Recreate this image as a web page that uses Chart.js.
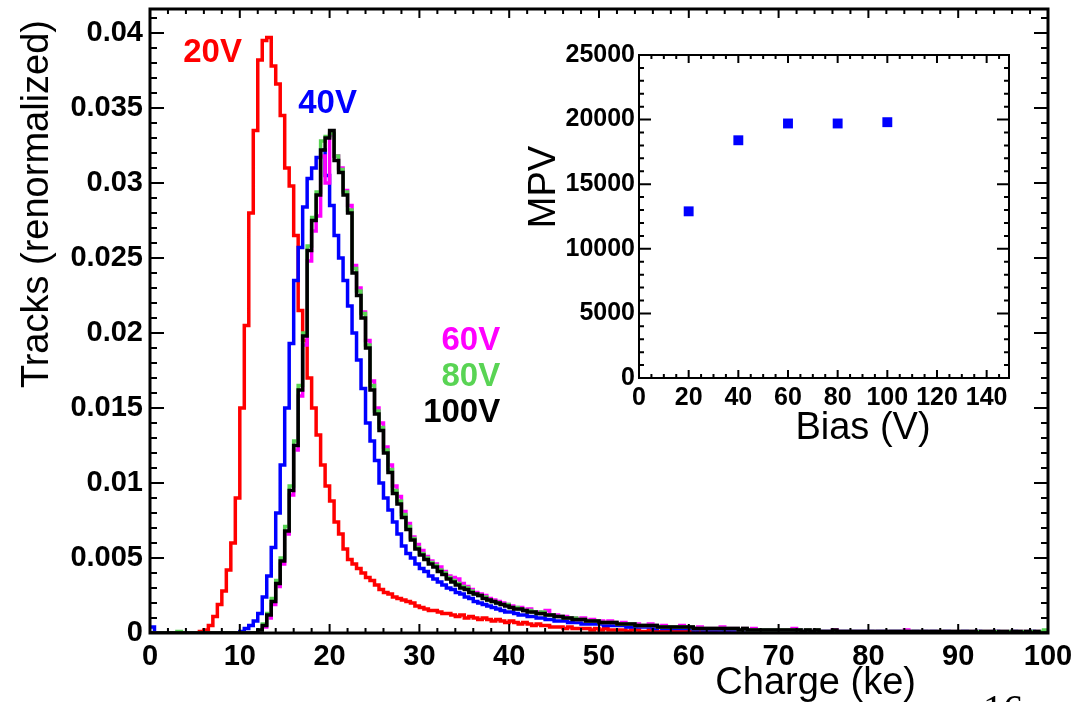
<!DOCTYPE html>
<html>
<head>
<meta charset="utf-8">
<script src="https://cdn.jsdelivr.net/npm/chart.js@4.4.1/dist/chart.umd.min.js"></script>
<style>
  body { margin: 0; background: #fff; }
  #wrap { position: relative; width: 1090px; height: 702px; overflow: hidden; }
  #main { position: absolute; left: 0; top: 0; }
  #inset { position: absolute; left: 500px; top: 20px; }
</style>
</head>
<body>
<div id="wrap">
  <canvas id="main" width="1090" height="702"></canvas>
  <canvas id="inset" width="570" height="430"></canvas>
</div>
<script>
// charge histograms, 0.5 ke bins from 0 to 100 ke (value = fraction of tracks)
const chargeBinWidth = 0.5;

const h20V = [
  0, 0, 0, 0, 0, 0, 0, 0, 0, 0,
  0, 0.0001, 0.0002, 0.0005, 0.0011, 0.0019, 0.0028, 0.0042, 0.0060, 0.0090,
  0.0150, 0.0205, 0.0280, 0.0335, 0.0382, 0.0395, 0.0397, 0.0378, 0.0366, 0.0345,
  0.0310, 0.0298, 0.0265, 0.0215, 0.0195, 0.0170, 0.0150, 0.0132, 0.0112, 0.0098,
  0.0088, 0.0074, 0.0066, 0.0056, 0.0049, 0.0046, 0.0043, 0.0040, 0.0037, 0.0035,
  0.0032, 0.0029, 0.0027, 0.0026, 0.0024, 0.0023, 0.0022, 0.0021, 0.0020, 0.0018,
  0.0017, 0.0016, 0.0015, 0.0015, 0.0014, 0.0013, 0.0013, 0.0012, 0.0011, 0.0012,
  0.0010, 0.0011, 0.0010, 0.0009, 0.0010, 0.0009, 0.0008, 0.0009, 0.0008, 0.0007,
  0.0008, 0.0007, 0.0006, 0.0007, 0.0006, 0.0005, 0.0006, 0.0005, 0.0005, 0.0004,
  0.0004, 0.0004, 0.0003, 0.0004, 0.0003, 0.0003, 0.0003, 0.0003, 0.0002, 0.0003,
  0.0002, 0.0003, 0.0002, 0.0002, 0.0002, 0.0002, 0.0001, 0.0002, 0.0002, 0.0001,
  0.0001, 0.0002, 0.0001, 0.0001, 0.0001, 0.0001, 0.0001, 0.0001, 0.0001, 0.0001,
  0.0001, 0, 0.0001, 0.0001, 0, 0.0001, 0, 0, 0.0001, 0,
  0, 0.0001, 0, 0, 0, 0.0001, 0, 0, 0, 0,
  0, 0, 0, 0.0001, 0, 0, 0, 0, 0, 0,
  0, 0, 0, 0, 0, 0, 0, 0, 0, 0,
  0, 0, 0, 0, 0, 0, 0, 0, 0, 0,
  0, 0, 0, 0, 0, 0, 0, 0, 0, 0,
  0, 0, 0, 0, 0, 0, 0, 0, 0, 0,
  0, 0, 0, 0, 0, 0, 0, 0, 0, 0
];

const h40V = [
  0.0004, 0, 0, 0, 0, 0, 0, 0, 0, 0,
  0, 0, 0, 0, 0, 0, 0, 0, 0, 0,
  0.0001, 0.0003, 0.0005, 0.0008, 0.0013, 0.0024, 0.0038, 0.0057, 0.0080, 0.0112,
  0.0150, 0.0193, 0.0235, 0.0257, 0.0284, 0.0303, 0.0310, 0.0317, 0.0322, 0.0305,
  0.0285, 0.0265, 0.0250, 0.0235, 0.0218, 0.0200, 0.0182, 0.0163, 0.0140, 0.0128,
  0.0115, 0.0100, 0.0090, 0.0082, 0.0074, 0.0066, 0.0058, 0.0053, 0.0050, 0.0046,
  0.0043, 0.0041, 0.0038, 0.0036, 0.0034, 0.0032, 0.0030, 0.0029, 0.0027, 0.0026,
  0.0024, 0.0023, 0.0021, 0.0020, 0.0019, 0.0018, 0.0017, 0.0016, 0.0015, 0.0014,
  0.0014, 0.0013, 0.0012, 0.0012, 0.0011, 0.0011, 0.0010, 0.0010, 0.0009, 0.0009,
  0.0008, 0.0008, 0.0008, 0.0007, 0.0007, 0.0007, 0.0006, 0.0006, 0.0006, 0.0006,
  0.0006, 0.0005, 0.0005, 0.0005, 0.0005, 0.0005, 0.0004, 0.0004, 0.0004, 0.0004,
  0.0004, 0.0004, 0.0003, 0.0004, 0.0003, 0.0003, 0.0003, 0.0003, 0.0003, 0.0003,
  0.0003, 0.0002, 0.0003, 0.0002, 0.0002, 0.0002, 0.0002, 0.0002, 0.0002, 0.0002,
  0.0002, 0.0002, 0.0001, 0.0002, 0.0002, 0.0001, 0.0001, 0.0002, 0.0001, 0.0001,
  0.0001, 0.0001, 0.0001, 0.0001, 0.0002, 0.0001, 0.0001, 0.0001, 0.0001, 0.0001,
  0.0001, 0.0001, 0.0001, 0.0001, 0.0001, 0.0001, 0.0001, 0.0001, 0.0001, 0.0001,
  0.0001, 0, 0.0001, 0.0001, 0, 0.0001, 0.0001, 0, 0.0001, 0,
  0.0001, 0, 0.0001, 0, 0.0001, 0, 0, 0.0001, 0, 0,
  0, 0.0001, 0, 0, 0.0001, 0, 0, 0, 0.0001, 0,
  0, 0, 0.0001, 0, 0, 0, 0.0001, 0, 0, 0
];

const h60V = [
  0, 0, 0, 0, 0, 0, 0, 0, 0, 0,
  0, 0, 0, 0, 0, 0, 0, 0, 0, 0,
  0, 0, 0, 0, 0.0001, 0.0004, 0.0010, 0.0019, 0.0031, 0.0046,
  0.0066, 0.0092, 0.0122, 0.0158, 0.0192, 0.0248, 0.0268, 0.0278, 0.0318, 0.0300,
  0.0332, 0.0318, 0.0310, 0.0295, 0.0285, 0.0245, 0.0230, 0.0214, 0.0195, 0.0168,
  0.0150, 0.0140, 0.0124, 0.0112, 0.0098, 0.0091, 0.0081, 0.0073, 0.0064, 0.0059,
  0.0055, 0.0051, 0.0048, 0.0046, 0.0044, 0.0041, 0.0038, 0.0037, 0.0036, 0.0033,
  0.0031, 0.0029, 0.0027, 0.0026, 0.0025, 0.0023, 0.0022, 0.0021, 0.0020, 0.0019,
  0.0018, 0.0017, 0.0017, 0.0015, 0.0016, 0.0014, 0.0014, 0.0013, 0.0015, 0.0012,
  0.0012, 0.0011, 0.0011, 0.0010, 0.0010, 0.0009, 0.0010, 0.0008, 0.0009, 0.0008,
  0.0008, 0.0007, 0.0008, 0.0007, 0.0006, 0.0007, 0.0006, 0.0006, 0.0006, 0.0005,
  0.0005, 0.0006, 0.0005, 0.0004, 0.0005, 0.0004, 0.0004, 0.0004, 0.0005, 0.0004,
  0.0004, 0.0003, 0.0004, 0.0003, 0.0003, 0.0003, 0.0003, 0.0004, 0.0003, 0.0003,
  0.0003, 0.0002, 0.0003, 0.0002, 0.0003, 0.0002, 0.0002, 0.0002, 0.0002, 0.0002,
  0.0002, 0.0002, 0.0002, 0.0003, 0.0002, 0.0001, 0.0002, 0.0001, 0.0002, 0.0001,
  0.0001, 0.0001, 0.0002, 0.0001, 0.0001, 0.0001, 0.0001, 0.0001, 0.0001, 0.0001,
  0.0001, 0.0001, 0.0001, 0.0001, 0.0001, 0.0001, 0.0001, 0.0001, 0.0002, 0.0001,
  0.0001, 0.0001, 0.0001, 0.0001, 0.0001, 0.0001, 0.0001, 0.0001, 0.0001, 0.0001,
  0.0001, 0.0001, 0.0001, 0.0001, 0.0001, 0.0001, 0.0001, 0.0001, 0.0001, 0.0001,
  0.0001, 0, 0.0001, 0.0001, 0.0001, 0.0001, 0, 0.0001, 0, 0.0001
];

const h80V = [
  0, 0, 0, 0, 0, 0, 0.0001, 0, 0, 0,
  0, 0, 0, 0, 0, 0, 0, 0, 0, 0,
  0, 0, 0, 0, 0.0002, 0.0006, 0.0013, 0.0023, 0.0035, 0.0050,
  0.0071, 0.0098, 0.0128, 0.0165, 0.0200, 0.0258, 0.0277, 0.0294, 0.0328, 0.0331,
  0.0333, 0.0318, 0.0309, 0.0294, 0.0282, 0.0243, 0.0228, 0.0213, 0.0192, 0.0165,
  0.0148, 0.0137, 0.0122, 0.0109, 0.0095, 0.0088, 0.0079, 0.0071, 0.0063, 0.0057,
  0.0053, 0.0050, 0.0047, 0.0045, 0.0042, 0.0040, 0.0037, 0.0035, 0.0033, 0.0031,
  0.0030, 0.0028, 0.0026, 0.0025, 0.0024, 0.0022, 0.0021, 0.0020, 0.0019, 0.0019,
  0.0017, 0.0017, 0.0016, 0.0015, 0.0015, 0.0014, 0.0013, 0.0014, 0.0012, 0.0012,
  0.0011, 0.0011, 0.0010, 0.0010, 0.0010, 0.0009, 0.0009, 0.0008, 0.0008, 0.0008,
  0.0007, 0.0007, 0.0007, 0.0007, 0.0006, 0.0006, 0.0006, 0.0006, 0.0005, 0.0005,
  0.0005, 0.0005, 0.0005, 0.0004, 0.0004, 0.0004, 0.0004, 0.0004, 0.0004, 0.0004,
  0.0004, 0.0003, 0.0003, 0.0003, 0.0003, 0.0003, 0.0003, 0.0003, 0.0003, 0.0003,
  0.0003, 0.0002, 0.0003, 0.0002, 0.0002, 0.0002, 0.0002, 0.0002, 0.0002, 0.0002,
  0.0002, 0.0002, 0.0002, 0.0002, 0.0002, 0.0001, 0.0002, 0.0001, 0.0002, 0.0001,
  0.0001, 0.0001, 0.0001, 0.0001, 0.0001, 0.0001, 0.0001, 0.0001, 0.0001, 0.0001,
  0.0001, 0.0001, 0.0001, 0.0001, 0.0001, 0.0001, 0.0001, 0.0001, 0.0001, 0.0001,
  0.0001, 0.0001, 0.0001, 0.0001, 0.0001, 0.0001, 0.0001, 0.0001, 0.0001, 0.0001,
  0.0001, 0.0001, 0.0001, 0.0001, 0.0001, 0.0001, 0.0001, 0.0001, 0.0001, 0.0001,
  0.0001, 0.0001, 0.0001, 0.0001, 0.0001, 0.0001, 0.0001, 0.0001, 0.0001, 0.0002
];

const h100V = [
  0, 0, 0, 0, 0, 0, 0, 0, 0, 0,
  0, 0, 0, 0, 0, 0, 0, 0, 0, 0,
  0, 0, 0, 0, 0.0002, 0.0005, 0.0012, 0.0021, 0.0033, 0.0048,
  0.0068, 0.0095, 0.0125, 0.0162, 0.0198, 0.0255, 0.0275, 0.0292, 0.0322, 0.0330,
  0.0335, 0.0315, 0.0307, 0.0292, 0.0280, 0.0240, 0.0225, 0.0210, 0.0190, 0.0162,
  0.0146, 0.0135, 0.0120, 0.0107, 0.0093, 0.0086, 0.0077, 0.0069, 0.0062, 0.0056,
  0.0052, 0.0049, 0.0046, 0.0044, 0.0041, 0.0039, 0.0036, 0.0034, 0.0032, 0.0030,
  0.0029, 0.0027, 0.0026, 0.0025, 0.0023, 0.0022, 0.0021, 0.0020, 0.0019, 0.0018,
  0.0017, 0.0016, 0.0016, 0.0015, 0.0014, 0.0014, 0.0013, 0.0013, 0.0012, 0.0012,
  0.0011, 0.0011, 0.0010, 0.0010, 0.0009, 0.0009, 0.0009, 0.0008, 0.0008, 0.0008,
  0.0007, 0.0007, 0.0007, 0.0007, 0.0006, 0.0006, 0.0006, 0.0006, 0.0005, 0.0005,
  0.0005, 0.0005, 0.0005, 0.0004, 0.0004, 0.0004, 0.0004, 0.0004, 0.0004, 0.0004,
  0.0004, 0.0003, 0.0003, 0.0003, 0.0003, 0.0003, 0.0003, 0.0003, 0.0003, 0.0003,
  0.0003, 0.0002, 0.0003, 0.0002, 0.0002, 0.0002, 0.0002, 0.0002, 0.0002, 0.0002,
  0.0002, 0.0002, 0.0002, 0.0002, 0.0002, 0.0001, 0.0002, 0.0001, 0.0002, 0.0001,
  0.0001, 0.0001, 0.0002, 0.0001, 0.0001, 0.0001, 0.0001, 0.0001, 0.0001, 0.0001,
  0.0001, 0.0001, 0.0001, 0.0001, 0.0001, 0.0001, 0.0001, 0.0001, 0.0001, 0.0001,
  0.0001, 0.0001, 0.0001, 0.0001, 0.0001, 0.0001, 0.0001, 0.0001, 0.0001, 0.0001,
  0.0001, 0.0001, 0.0001, 0.0001, 0, 0.0001, 0.0001, 0.0001, 0, 0.0001,
  0.0001, 0, 0.0001, 0.0001, 0, 0.0001, 0, 0.0001, 0, 0
];

// inset: most probable value vs bias voltage
const biasV = [20, 40, 60, 80, 100];
const mpvValues = [12900, 18400, 19700, 19700, 19800];

// tick labels
const chargeTicks = [0, 10, 20, 30, 40, 50, 60, 70, 80, 90, 100];
const trackTicks = [0, 0.005, 0.01, 0.015, 0.02, 0.025, 0.03, 0.035, 0.04];
const biasTicks = [0, 20, 40, 60, 80, 100, 120, 140];
const mpvTicks = [0, 5000, 10000, 15000, 20000, 25000];

Chart.defaults.font.family = "'Liberation Sans', Arial, sans-serif";
Chart.defaults.color = '#000';

// histogram -> points at bin left edges, plus closing edge
function toSteps(vals) {
  const pts = vals.map((v, i) => ({ x: i * chargeBinWidth, y: v }));
  pts.push({ x: vals.length * chargeBinWidth, y: vals[vals.length - 1] });
  return pts;
}

function histSet(label, vals, color) {
  return {
    label: label,
    data: toSteps(vals),
    borderColor: color,
    borderWidth: 3.5,
    stepped: true,
    pointRadius: 0,
    fill: false,
    tension: 0
  };
}

// ROOT style frame with inside ticks on all four sides
const rootFrame = {
  id: 'rootFrame',
  afterDatasetsDraw(chart, args, o) {
    const { ctx, chartArea: a } = chart;
    const xs = chart.scales.x, ys = chart.scales.y;
    ctx.save();
    ctx.strokeStyle = '#000';
    ctx.lineWidth = o.tickWidth;
    ctx.beginPath();
    const nx = Math.floor((xs.max - xs.min) / o.xMinor + 1e-6);
    for (let i = 0; i <= nx; i++) {
      const v = xs.min + i * o.xMinor;
      const px = xs.getPixelForValue(v);
      const r = v / o.xMajor;
      const len = Math.abs(r - Math.round(r)) < 1e-6 ? o.xMajorLen : o.xMinorLen;
      ctx.moveTo(px, a.bottom); ctx.lineTo(px, a.bottom - len);
      ctx.moveTo(px, a.top); ctx.lineTo(px, a.top + len);
    }
    const ny = Math.floor((ys.max - ys.min) / o.yMinor + 1e-6);
    for (let i = 0; i <= ny; i++) {
      const v = ys.min + i * o.yMinor;
      const py = ys.getPixelForValue(v);
      const r = v / o.yMajor;
      const len = Math.abs(r - Math.round(r)) < 1e-6 ? o.yMajorLen : o.yMinorLen;
      ctx.moveTo(a.left, py); ctx.lineTo(a.left + len, py);
      ctx.moveTo(a.right, py); ctx.lineTo(a.right - len, py);
    }
    ctx.stroke();
    ctx.lineWidth = o.frameWidth;
    ctx.strokeRect(a.left, a.top, a.right - a.left, a.bottom - a.top);
    ctx.restore();
  }
};

// voltage labels next to the curves + axis titles
const mainTexts = {
  id: 'mainTexts',
  afterDraw(chart, args, o) {
    const { ctx } = chart;
    const xs = chart.scales.x, ys = chart.scales.y;
    ctx.save();
    ctx.font = "bold 33px 'Liberation Sans', Arial, sans-serif";
    ctx.textBaseline = 'middle';
    o.curveLabels.forEach(l => {
      ctx.fillStyle = l.color;
      ctx.textAlign = l.align;
      ctx.fillText(l.text, xs.getPixelForValue(l.x), ys.getPixelForValue(l.y));
    });
    ctx.fillStyle = '#000';
    ctx.textBaseline = 'alphabetic';
    ctx.font = "38px 'Liberation Sans', Arial, sans-serif";
    // y title, right aligned to top
    ctx.save();
    ctx.translate(48, 20);
    ctx.rotate(-Math.PI / 2);
    ctx.textAlign = 'right';
    ctx.fillText('Tracks (renormalized)', 0, 0);
    ctx.restore();
    ctx.textAlign = 'right';
    ctx.fillText('Charge (ke)', 916, 694);
    // inset titles
    ctx.textAlign = 'center';
    ctx.fillText('Bias (V)', 863, 439);
    ctx.save();
    ctx.translate(555, 187);
    ctx.rotate(-Math.PI / 2);
    ctx.fillText('MPV', 0, 0);
    ctx.restore();
    // slide page number, cut at the bottom
    ctx.font = "40px 'Liberation Serif', serif";
    ctx.fillText('16', 1003, 722);
    ctx.restore();
  }
};

function fixTicks(arr) {
  return function (scale) { scale.ticks = arr.map(v => ({ value: v })); };
}
function noPad(scale) {
  scale.paddingTop = 0; scale.paddingBottom = 0;
  scale.paddingLeft = 0; scale.paddingRight = 0;
}

const tickFontMain = { size: 29, weight: 'bold' };

new Chart(document.getElementById('main').getContext('2d'), {
  type: 'line',
  data: {
    datasets: [
      histSet('100V', h100V, '#000000'),
      histSet('80V', h80V, '#59d454'),
      histSet('60V', h60V, '#ff00ff'),
      histSet('40V', h40V, '#0000ff'),
      histSet('20V', h20V, '#ff0000')
    ]
  },
  options: {
    responsive: false,
    animation: false,
    layout: { padding: { left: 0, right: 42, top: 9, bottom: 0 } },
    plugins: {
      legend: { display: false },
      tooltip: { enabled: false },
      rootFrame: {
        frameWidth: 3, tickWidth: 2,
        xMajor: 10, xMinor: 2, xMajorLen: 9, xMinorLen: 5,
        yMajor: 0.005, yMinor: 0.001, yMajorLen: 14, yMinorLen: 7
      },
      mainTexts: {
        curveLabels: [
          { text: '20V', x: 3.7, y: 0.0387, color: '#ff0000', align: 'left' },
          { text: '40V', x: 16.5, y: 0.0353, color: '#0000ff', align: 'left' },
          { text: '60V', x: 39.0, y: 0.0195, color: '#ff00ff', align: 'right' },
          { text: '80V', x: 39.0, y: 0.0171, color: '#59d454', align: 'right' },
          { text: '100V', x: 39.0, y: 0.0147, color: '#000000', align: 'right' }
        ]
      }
    },
    scales: {
      x: {
        type: 'linear', min: 0, max: 100,
        afterBuildTicks: fixTicks(chargeTicks),
        ticks: { font: tickFontMain, color: '#000', padding: 7, maxRotation: 0, autoSkip: false },
        grid: { display: false, drawTicks: false },
        border: { display: false },
        afterFit(s) { s.height = 69; noPad(s); }
      },
      y: {
        type: 'linear', min: 0, max: 0.0416,
        afterBuildTicks: fixTicks(trackTicks),
        ticks: { font: tickFontMain, color: '#000', padding: 7, autoSkip: false,
          callback: v => String(+v.toFixed(3)) },
        grid: { display: false, drawTicks: false },
        border: { display: false },
        afterFit(s) { s.width = 150; noPad(s); }
      }
    }
  },
  plugins: [rootFrame, mainTexts]
});

const tickFontInset = { size: 25, weight: 'bold' };

new Chart(document.getElementById('inset').getContext('2d'), {
  type: 'scatter',
  data: {
    datasets: [{
      label: 'MPV',
      data: biasV.map((b, i) => ({ x: b, y: mpvValues[i] })),
      pointStyle: 'rect',
      pointRadius: 7,
      backgroundColor: '#0000ff',
      borderWidth: 0
    }]
  },
  options: {
    responsive: false,
    animation: false,
    layout: { padding: { left: 0, right: 61, top: 35, bottom: 0 } },
    plugins: {
      legend: { display: false },
      tooltip: { enabled: false },
      rootFrame: {
        frameWidth: 2, tickWidth: 2,
        xMajor: 20, xMinor: 5, xMajorLen: 8, xMinorLen: 4,
        yMajor: 5000, yMinor: 1000, yMajorLen: 12, yMinorLen: 5
      }
    },
    scales: {
      x: {
        type: 'linear', min: 0, max: 149,
        afterBuildTicks: fixTicks(biasTicks),
        ticks: { font: tickFontInset, color: '#000', padding: 5, maxRotation: 0, autoSkip: false },
        grid: { display: false, drawTicks: false },
        border: { display: false },
        afterFit(s) { s.height = 72; noPad(s); }
      },
      y: {
        type: 'linear', min: 0, max: 25000,
        afterBuildTicks: fixTicks(mpvTicks),
        ticks: { font: tickFontInset, color: '#000', padding: 4, autoSkip: false,
          callback: v => String(v) },
        grid: { display: false, drawTicks: false },
        border: { display: false },
        afterFit(s) { s.width = 139; noPad(s); }
      }
    }
  },
  plugins: [rootFrame]
});
</script>
</body>
</html>
